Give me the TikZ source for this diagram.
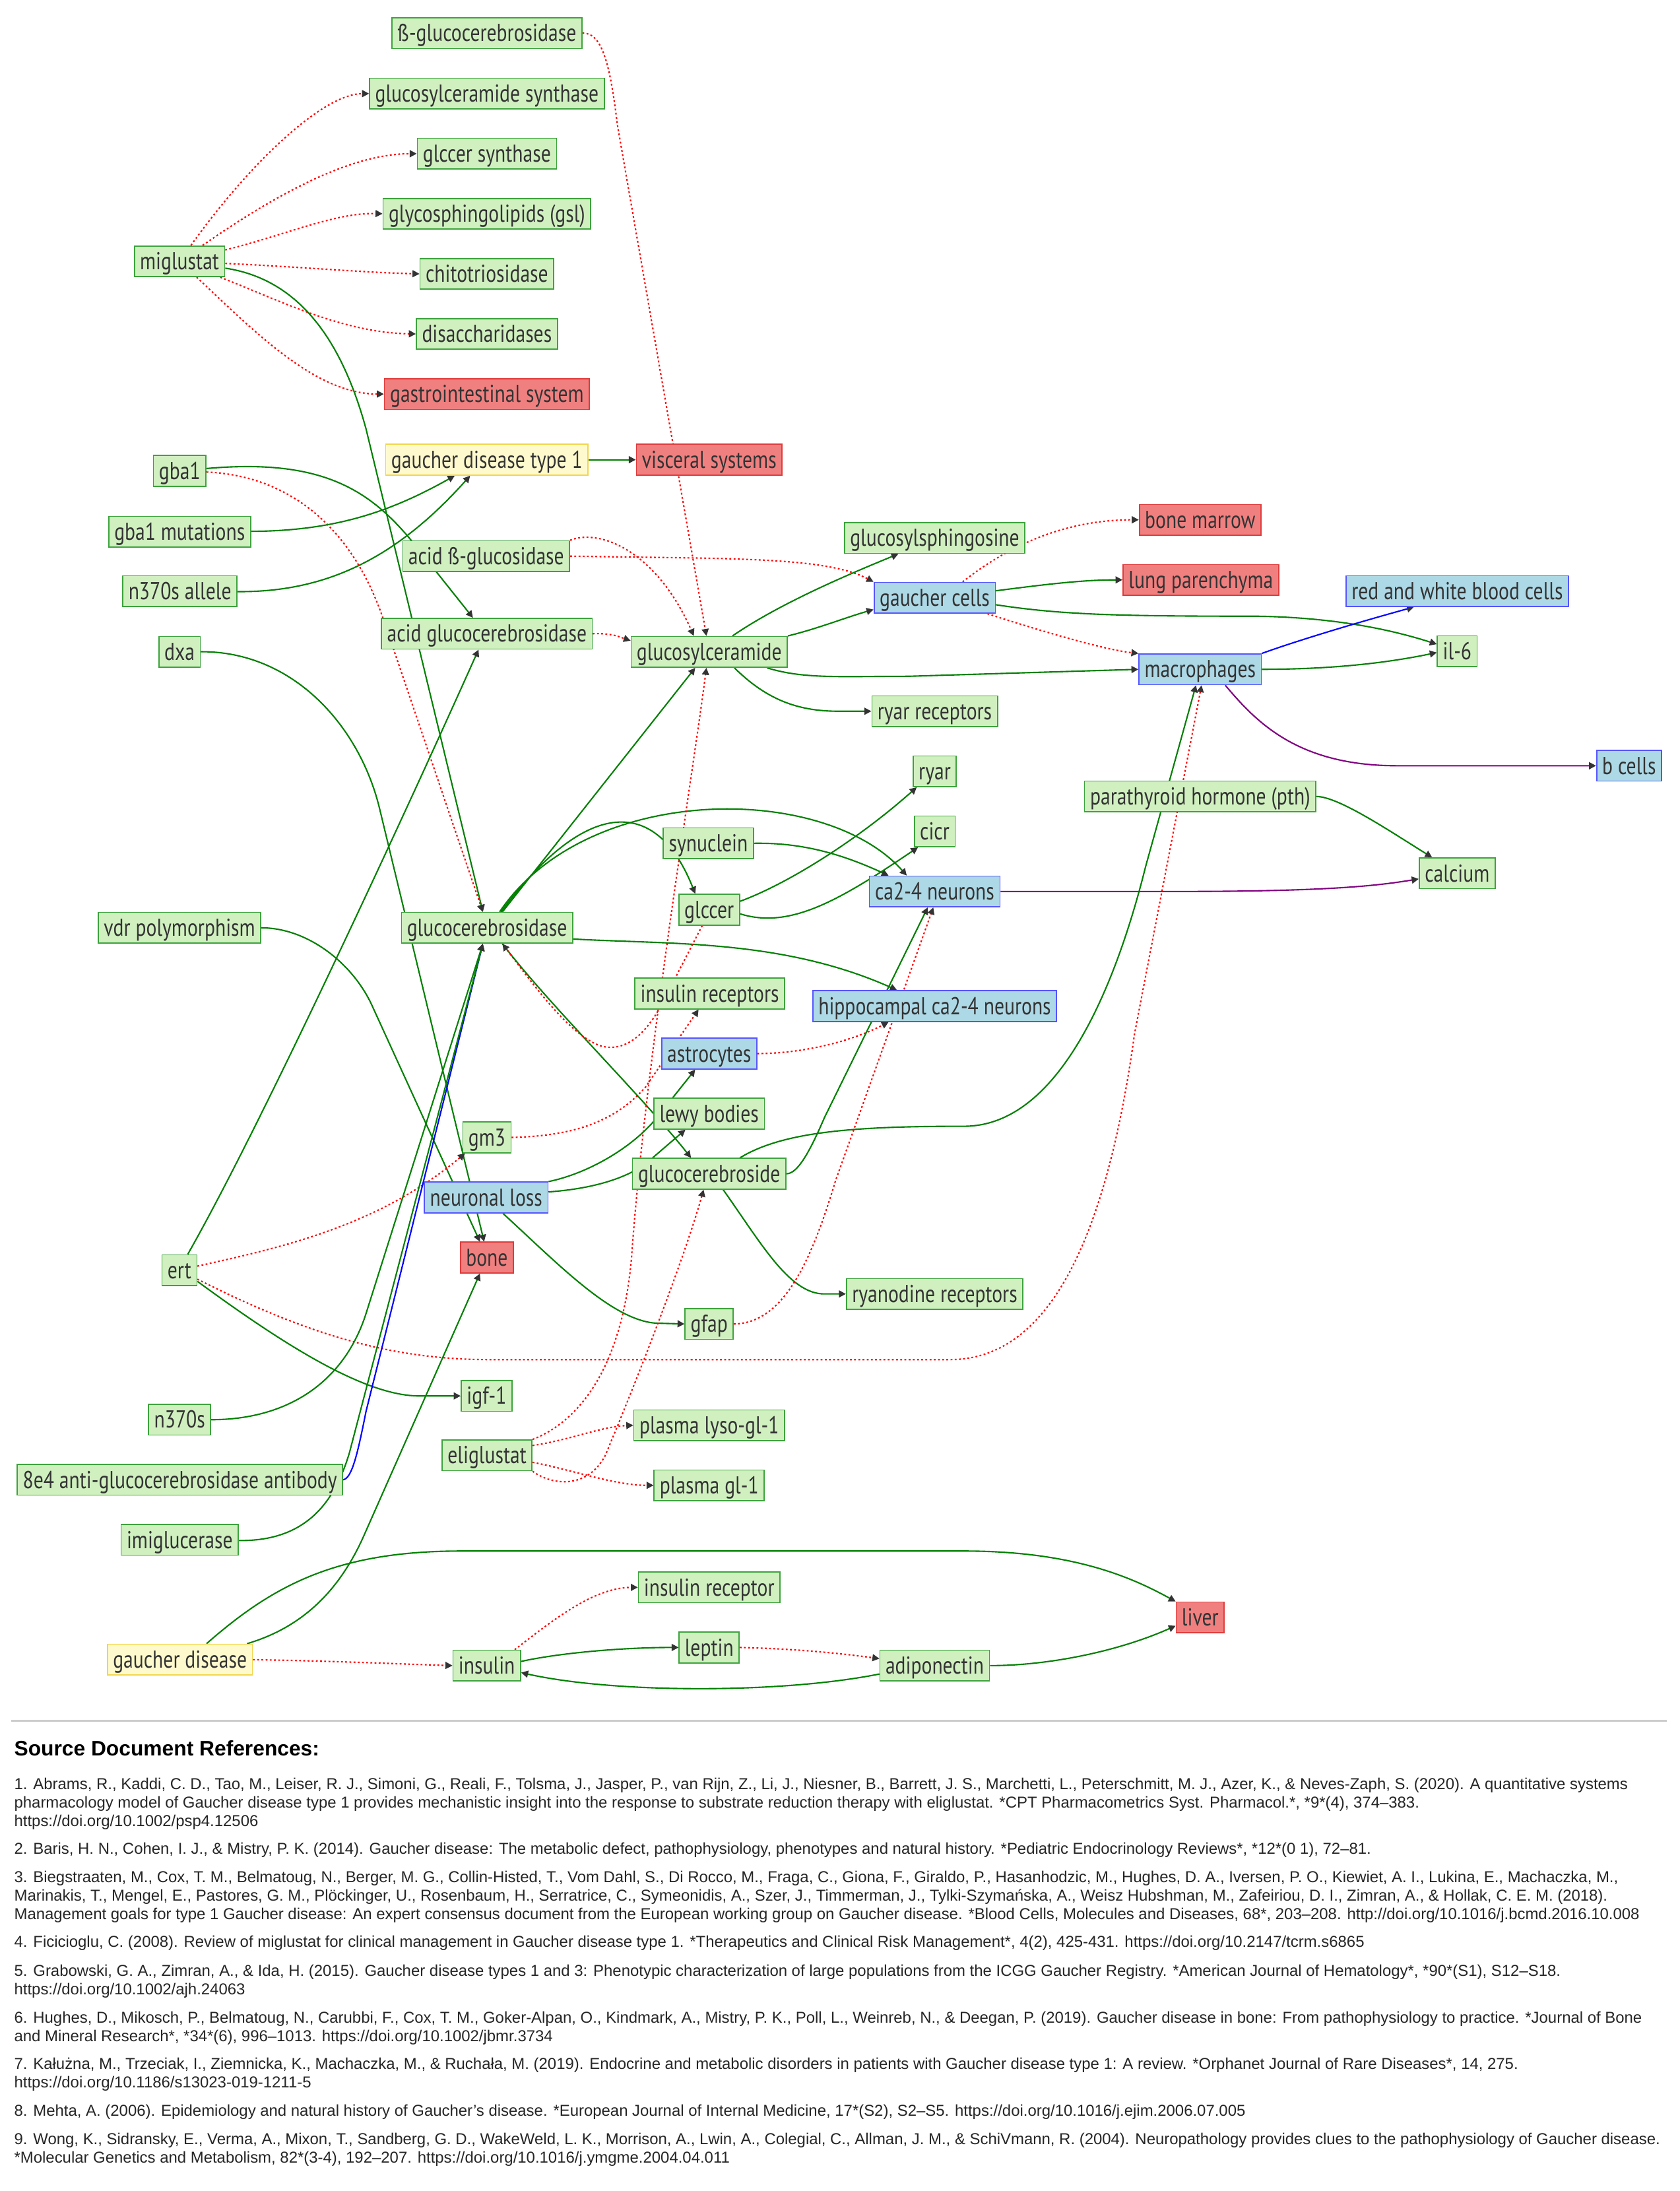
\documentclass[tikz,border=0pt]{standalone}
\usepackage{fontspec}
\setmainfont{Liberation Sans}
\newfontfamily\boxfont[FakeStretch=0.8]{PT Sans}
\usetikzlibrary{arrows.meta,backgrounds}
\definecolor{txtgray}{HTML}{333333}
\definecolor{gfill}{HTML}{D0F0C0}
\definecolor{gstroke}{HTML}{3DA33D}
\definecolor{rfill}{HTML}{F08080}
\definecolor{rstroke}{HTML}{E03C3C}
\definecolor{bfill}{HTML}{ADD8E6}
\definecolor{bstroke}{HTML}{5555FF}
\definecolor{yfill}{HTML}{FFFACD}
\definecolor{ystroke}{HTML}{F2D64B}
\definecolor{edgegreen}{HTML}{008000}
\definecolor{edgepurple}{HTML}{800080}
\tikzset{
  nodebox/.style={draw, line width=0.8pt, text=txtgray, font=\boxfont\fontsize{17.5}{20}\selectfont,
    minimum height=22pt, inner xsep=4pt, inner ysep=0pt, text height=14pt, text depth=2pt},
  greennode/.style={nodebox, fill=gfill, draw=gstroke},
  rednode/.style={nodebox, fill=rfill, draw=rstroke},
  bluenode/.style={nodebox, fill=bfill, draw=bstroke},
  yellownode/.style={nodebox, fill=yfill, draw=ystroke},
  >={Triangle[length=5pt,width=5pt,color=txtgray]},
  greenarr/.style={->, draw=edgegreen, line width=1pt},
  redarr/.style={->, draw=red, line width=1pt, dash pattern=on 1.3pt off 1.7pt},
  bluearr/.style={->, draw=blue, line width=1pt},
  purplearr/.style={->, draw=edgepurple, line width=1pt},
  reftitle/.style={anchor=base west, inner sep=0pt, font=\bfseries\fontsize{15}{18}\selectfont},
  reftext/.style={anchor=base west, inner sep=0pt, text=black!85, font=\fontsize{11.3}{13}\selectfont}
}

\begin{document}
\begin{tikzpicture}[x=1pt,y=-1pt]
  \useasboundingbox (0,0) rectangle (1202,1568);
  \begin{scope}[on background layer]
    \fill[white] (0,0) rectangle (1202,1568);
  \end{scope}

  \node[greennode] (betagcd) at (348.5,23.7) {ß-glucocerebrosidase};
  \node[greennode] (gcsyn) at (348.5,67) {glucosylceramide synthase};
  \node[greennode] (glcsyn) at (348.5,110) {glccer synthase};
  \node[greennode] (gsl) at (348.5,153) {glycosphingolipids (gsl)};
  \node[greennode] (chito) at (348.5,196) {chitotriosidase};
  \node[greennode] (disac) at (348.5,239) {disaccharidases};
  \node[rednode] (gisys) at (348.5,282) {gastrointestinal system};
  \node[greennode] (migl) at (128.5,187) {miglustat};
  \node[yellownode] (gdt1) at (348.5,329) {gaucher disease type 1};
  \node[rednode] (visc) at (507.6,329) {visceral systems};
  \node[greennode] (gba1) at (128.6,337) {gba1};
  \node[greennode] (gbamut) at (128.6,380.5) {gba1 mutations};
  \node[greennode] (nallele) at (128.8,423) {n370s allele};
  \node[greennode] (dxa) at (128.5,466.5) {dxa};
  \node[greennode] (abglu) at (348,398) {acid ß-glucosidase};
  \node[greennode] (agcd) at (348.5,453.5) {acid glucocerebrosidase};
  \node[greennode] (gcer) at (507.6,466.5) {glucosylceramide};
  \node[greennode] (gsph) at (669,385) {glucosylsphingosine};
  \node[bluenode] (gcells) at (669,427.8) {gaucher cells};
  \node[rednode] (bmarrow) at (859,372) {bone marrow};
  \node[rednode] (lung) at (859.5,415) {lung parenchyma};
  \node[bluenode] (rwbc) at (1043,423) {red and white blood cells};
  \node[greennode] (il6) at (1043,466) {il-6};
  \node[bluenode] (macro) at (859,479) {macrophages};
  \node[greennode] (ryarrec) at (669,509) {ryar receptors};
  \node[bluenode] (bcells) at (1166,548) {b cells};
  \node[greennode] (ryar) at (669,552) {ryar};
  \node[greennode] (cicr) at (669,595) {cicr};
  \node[greennode] (pth) at (859,570) {parathyroid hormone (pth)};
  \node[greennode] (synuc) at (507,603.5) {synuclein};
  \node[greennode] (glccer) at (507.6,651) {glccer};
  \node[bluenode] (ca24) at (669,638) {ca2-4 neurons};
  \node[greennode] (calcium) at (1043,625) {calcium};
  \node[greennode] (vdr) at (128.5,664) {vdr polymorphism};
  \node[greennode] (gcd) at (348.6,664) {glucocerebrosidase};
  \node[greennode] (insrec) at (508,711) {insulin receptors};
  \node[bluenode] (hippo) at (669,720) {hippocampal ca2-4 neurons};
  \node[bluenode] (astro) at (507.6,754) {astrocytes};
  \node[greennode] (lewy) at (507.6,797) {lewy bodies};
  \node[greennode] (gm3) at (348.5,814) {gm3};
  \node[bluenode] (nloss) at (348,857) {neuronal loss};
  \node[greennode] (gcside) at (507.6,840) {glucocerebroside};
  \node[rednode] (bone) at (348.5,900) {bone};
  \node[greennode] (ert) at (128.4,909) {ert};
  \node[greennode] (gfap) at (507.6,947.5) {gfap};
  \node[greennode] (ryanod) at (669,926) {ryanodine receptors};
  \node[greennode] (n370s) at (128.6,1016) {n370s};
  \node[greennode] (igf1) at (348.3,999) {igf-1};
  \node[greennode] (eli) at (348.6,1041.5) {eliglustat};
  \node[greennode] (plyso) at (507.6,1020) {plasma lyso-gl-1};
  \node[greennode] (pgl) at (507.6,1063) {plasma gl-1};
  \node[greennode] (ab8e4) at (128.8,1059) {8e4 anti-glucocerebrosidase antibody};
  \node[greennode] (imig) at (128.6,1102) {imiglucerase};
  \node[rednode] (liver) at (859,1157.5) {liver};
  \node[yellownode] (gd) at (128.8,1187.7) {gaucher disease};
  \node[greennode] (insulin) at (348.4,1192) {insulin};
  \node[greennode] (insr) at (507.6,1136) {insulin receptor};
  \node[greennode] (leptin) at (507.6,1179) {leptin};
  \node[greennode] (adipo) at (669,1192) {adiponectin};

  \begin{scope}[on background layer]
    \draw[redarr] (migl) .. controls (180,115) and (232,67) .. (gcsyn.west);
    \draw[redarr] (migl) .. controls (185,148) and (245,110) .. (glcsyn.west);
    \draw[redarr] (migl) .. controls (205,168) and (240,152) .. (gsl.west);
    \draw[redarr] (migl) .. controls (215,191) and (260,195) .. (chito.west);
    \draw[redarr] (migl) .. controls (200,215) and (245,238) .. (disac.west);
    \draw[redarr] (migl) .. controls (180,235) and (225,282) .. (gisys.west);
    \draw[greenarr] (migl) .. controls (215,200) and (245,245) .. (262,307) -- ([xshift=-3pt]gcd.north);
    \draw[redarr] (betagcd.east) .. controls (432,23) and (437,50) .. (442,90) -- ([xshift=-2pt]gcer.north);
    \draw[greenarr] (gdt1) -- (visc);
    \draw[greenarr] (gba1) .. controls (230,328) and (265,350) .. (297,390) -- ([xshift=-10pt]agcd.north);
    \draw[redarr] (gba1) .. controls (200,340) and (250,370) .. (275,445) -- ([xshift=-3pt]gcd.north);
    \draw[greenarr] (gbamut) .. controls (240,380) and (280,366) .. ([xshift=-23pt]gdt1.south);
    \draw[greenarr] (nallele) .. controls (235,424) and (285,398) .. ([xshift=-12pt]gdt1.south);
    \draw[redarr] (abglu.north east) .. controls (430,378) and (470,395) .. ([xshift=-11pt]gcer.north);
    \draw[redarr] (abglu.east) .. controls (520,400) and (590,398) .. (gcells.north west);
    \draw[redarr] (agcd.east) .. controls (438,453) and (444,456) .. ([yshift=8pt]gcer.west);
    \draw[greenarr] (gcer) .. controls (558,432) and (605,412) .. ([xshift=-26pt]gsph.south);
    \draw[greenarr] (gcer.north east) .. controls (585,450) and (605,442) .. ([yshift=3pt]gcells.south west);
    \draw[greenarr] ([xshift=-15pt]gcer.south east) .. controls (575,486) and (600,484) .. (650,484) -- (macro.west);
    \draw[greenarr] ([xshift=18pt]gcer.south) .. controls (548,500) and (570,509) .. (600,509) -- (ryarrec.west);
    \draw[redarr] ([xshift=20pt]gcells.north) .. controls (720,392) and (760,372) .. (bmarrow.west);
    \draw[greenarr] ([yshift=5pt]gcells.east) .. controls (750,418) and (775,415) .. (lung.west);
    \draw[greenarr] ([yshift=-5pt]gcells.east) .. controls (760,440) and (800,441) .. (900,441) .. controls (960,442) and (1000,452) .. ([yshift=5pt]il6.west);
    \draw[redarr] ([xshift=-6pt]gcells.south east) .. controls (740,450) and (790,465) .. (macro.north west);
    \draw[bluearr] (macro.north east) .. controls (930,458) and (970,446) .. ([xshift=-31pt]rwbc.south);
    \draw[greenarr] (macro.east) .. controls (950,479) and (990,475) .. ([yshift=-1pt]il6.west);
    \draw[purplearr] ([xshift=18pt]macro.south) .. controls (900,518) and (930,548) .. (1000,548) -- (bcells.west);
    \draw[greenarr] ([xshift=11pt]gcd.north) -- ([xshift=-10pt]gcer.south);
    \draw[greenarr] ([xshift=10pt]gcd.north) .. controls (420,570) and (470,570) .. ([xshift=-10pt]glccer.north);
    \draw[greenarr] ([xshift=9pt]gcd.north) .. controls (420,560) and (590,560) .. ([xshift=-20pt]ca24.north);
    \draw[greenarr] ([yshift=-8pt]gcd.east) .. controls (480,676) and (560,672) .. ([xshift=-27pt]hippo.north);
    \draw[greenarr] ([xshift=11pt]gcd.south) .. controls (392,718) and (460,785) .. ([xshift=-13pt]gcside.north);
    \draw[redarr] ([xshift=-5pt]glccer.south) -- (475,716) .. controls (462,742) and (447,752) .. (432,749) .. controls (410,744) and (382,705) .. ([xshift=11pt]gcd.south);
    \draw[greenarr] (synuc.east) .. controls (572,603) and (600,610) .. ([xshift=-33pt]ca24.north);
    \draw[greenarr] ([yshift=6pt]glccer.east) .. controls (565,632) and (615,600) .. ([xshift=3pt]ryar.south west);
    \draw[greenarr] ([yshift=-3pt]glccer.east) .. controls (565,665) and (600,645) .. ([xshift=3pt]cicr.south west);
    \draw[greenarr] (pth.east) .. controls (958,570) and (995,595) .. ([xshift=-18pt]calcium.north);
    \draw[purplearr] (ca24.east) -- (840,638) .. controls (950,638) and (985,634) .. ([yshift=-4pt]calcium.west);
    \draw[redarr] (gm3.east) .. controls (410,813) and (440,803) .. (462,778) -- ([xshift=-8pt]insrec.south);
    \draw[redarr] (astro.east) .. controls (575,754) and (610,745) .. ([xshift=-33pt]hippo.south);
    \draw[greenarr] (nloss.north east) .. controls (420,840) and (452,822) .. (470,800) -- ([xshift=-10pt]astro.south);
    \draw[greenarr] ([yshift=4pt]nloss.east) .. controls (420,851) and (445,845) .. (462,833) -- ([xshift=-17pt]lewy.south);
    \draw[greenarr] ([xshift=12pt]nloss.south) .. controls (400,905) and (440,947) .. (472,947) -- (gfap.west);
    \draw[greenarr] ([xshift=22pt]gcside.north) .. controls (560,810) and (610,806) .. (690,806) .. controls (760,806) and (800,700) .. (820,620) -- ([xshift=-3pt]macro.south);
    \draw[greenarr] (gcside.east) .. controls (570,840) and (578,828) .. (590,800) -- ([xshift=-5pt]ca24.south);
    \draw[greenarr] ([xshift=10pt]gcside.south) .. controls (545,890) and (565,926) .. (590,926) -- (ryanod.west);
    \draw[redarr] (gfap.east) .. controls (560,947) and (580,905) .. (598,845) -- ([xshift=-1pt]ca24.south);
    \draw[greenarr] (dxa) .. controls (210,466) and (258,520) .. (272,580) -- ([xshift=-2pt]bone.north);
    \draw[greenarr] (vdr) .. controls (220,664) and (252,689) .. (266,719) -- ([xshift=-5pt]bone.north);
    \draw[greenarr] ([xshift=6pt]ert.north) .. controls (190,800) and (300,560) .. ([xshift=-6pt]agcd.south);
    \draw[redarr] (ert) .. controls (200,893) and (270,878) .. ([xshift=2pt]gm3.south west);
    \draw[greenarr] ([yshift=-8pt]ert.east) .. controls (200,960) and (260,999) .. (300,999) -- (igf1.west);
    \draw[redarr] (ert) .. controls (220,955) and (280,973) .. (350,973) -- (680,973) .. controls (745,973) and (790,900) .. (812,740) -- ([xshift=1pt]macro.south);
    \draw[greenarr] (n370s) .. controls (205,1016) and (246,990) .. (262,940) -- ([xshift=-3pt]gcd.south);
    \draw[bluearr] (ab8e4.east) .. controls (252,1058) and (256,1040) .. (262,1010) -- ([xshift=-3pt]gcd.south);
    \draw[greenarr] (imig) .. controls (215,1103) and (238,1080) .. (250,1040) -- ([xshift=-3pt]gcd.south);
    \draw[redarr] (eli.north east) .. controls (420,1015) and (446,970) .. (452,900) .. controls (462,760) and (495,560) .. ([xshift=-2pt]gcer.south);
    \draw[redarr] ([yshift=7pt]eli.east) .. controls (410,1030) and (430,1021) .. (plyso.west);
    \draw[redarr] ([yshift=-5pt]eli.east) .. controls (410,1052) and (440,1063) .. (pgl.west);
    \draw[redarr] (eli.south east) .. controls (395,1063) and (420,1066) .. (433,1042) .. controls (455,990) and (490,900) .. ([xshift=-4pt]gcside.south);
    \draw[greenarr] ([xshift=48pt]gd.north) .. controls (215,1165) and (242,1140) .. (260,1100) -- ([xshift=-5pt]bone.south);
    \draw[greenarr] ([xshift=19pt]gd.north) .. controls (195,1135) and (240,1110) .. (330,1110) -- (690,1110) .. controls (770,1110) and (812,1130) .. (liver.north west);
    \draw[redarr] (gd.east) .. controls (250,1189) and (290,1191) .. (insulin.west);
    \draw[redarr] ([xshift=20pt]insulin.north) .. controls (395,1160) and (425,1136) .. (insr.west);
    \draw[greenarr] ([yshift=3pt]insulin.east) .. controls (400,1183) and (445,1179) .. (leptin.west);
    \draw[redarr] (leptin.east) .. controls (570,1180) and (600,1183) .. ([yshift=5pt]adipo.west);
    \draw[greenarr] ([yshift=-6pt]adipo.west) .. controls (560,1212) and (440,1212) .. ([yshift=-5pt]insulin.east);
    \draw[greenarr] (adipo.east) .. controls (750,1192) and (800,1182) .. ([yshift=-6pt]liver.west);
  \end{scope}

  \draw[black!20, line width=1pt] (8,1231.5) -- (1193,1231.5);
  \node[reftitle] (refhead) at (10,1256.7) {Source Document References:};
  \node[reftext] (ref1a) at (10,1280.7) {1. Abrams, R., Kaddi, C. D., Tao, M., Leiser, R. J., Simoni, G., Reali, F., Tolsma, J., Jasper, P., van Rijn, Z., Li, J., Niesner, B., Barrett, J. S., Marchetti, L., Peterschmitt, M. J., Azer, K., \& Neves-Zaph, S. (2020). A quantitative systems};
  \node[reftext] (ref1b) at (10,1293.9) {pharmacology model of Gaucher disease type 1 provides mechanistic insight into the response to substrate reduction therapy with eliglustat. *CPT Pharmacometrics Syst. Pharmacol.*, *9*(4), 374–383.};
  \node[reftext] (ref1c) at (10,1307.1) {https://doi.org/10.1002/psp4.12506};
  \node[reftext] (ref2) at (10,1326.7) {2. Baris, H. N., Cohen, I. J., \& Mistry, P. K. (2014). Gaucher disease: The metabolic defect, pathophysiology, phenotypes and natural history. *Pediatric Endocrinology Reviews*, *12*(0 1), 72–81.};
  \node[reftext] (ref3a) at (10,1347.2) {3. Biegstraaten, M., Cox, T. M., Belmatoug, N., Berger, M. G., Collin-Histed, T., Vom Dahl, S., Di Rocco, M., Fraga, C., Giona, F., Giraldo, P., Hasanhodzic, M., Hughes, D. A., Iversen, P. O., Kiewiet, A. I., Lukina, E., Machaczka, M.,};
  \node[reftext] (ref3b) at (10,1360.4) {Marinakis, T., Mengel, E., Pastores, G. M., Plöckinger, U., Rosenbaum, H., Serratrice, C., Symeonidis, A., Szer, J., Timmerman, J., Tylki-Szymańska, A., Weisz Hubshman, M., Zafeiriou, D. I., Zimran, A., \& Hollak, C. E. M. (2018).};
  \node[reftext] (ref3c) at (10,1373.6) {Management goals for type 1 Gaucher disease: An expert consensus document from the European working group on Gaucher disease. *Blood Cells, Molecules and Diseases, 68*, 203–208. http://doi.org/10.1016/j.bcmd.2016.10.008};
  \node[reftext] (ref4) at (10,1393.7) {4. Ficicioglu, C. (2008). Review of miglustat for clinical management in Gaucher disease type 1. *Therapeutics and Clinical Risk Management*, 4(2), 425-431. https://doi.org/10.2147/tcrm.s6865};
  \node[reftext] (ref5a) at (10,1414.4) {5. Grabowski, G. A., Zimran, A., \& Ida, H. (2015). Gaucher disease types 1 and 3: Phenotypic characterization of large populations from the ICGG Gaucher Registry. *American Journal of Hematology*, *90*(S1), S12–S18.};
  \node[reftext] (ref5b) at (10,1427.6) {https://doi.org/10.1002/ajh.24063};
  \node[reftext] (ref6a) at (10,1448.0) {6. Hughes, D., Mikosch, P., Belmatoug, N., Carubbi, F., Cox, T. M., Goker-Alpan, O., Kindmark, A., Mistry, P. K., Poll, L., Weinreb, N., \& Deegan, P. (2019). Gaucher disease in bone: From pathophysiology to practice. *Journal of Bone};
  \node[reftext] (ref6b) at (10,1461.2) {and Mineral Research*, *34*(6), 996–1013. https://doi.org/10.1002/jbmr.3734};
  \node[reftext] (ref7a) at (10,1481.0) {7. Kałużna, M., Trzeciak, I., Ziemnicka, K., Machaczka, M., \& Ruchała, M. (2019). Endocrine and metabolic disorders in patients with Gaucher disease type 1: A review. *Orphanet Journal of Rare Diseases*, 14, 275.};
  \node[reftext] (ref7b) at (10,1494.2) {https://doi.org/10.1186/s13023-019-1211-5};
  \node[reftext] (ref8) at (10,1514.2) {8. Mehta, A. (2006). Epidemiology and natural history of Gaucher's disease. *European Journal of Internal Medicine, 17*(S2), S2–S5. https://doi.org/10.1016/j.ejim.2006.07.005};
  \node[reftext] (ref9a) at (10,1534.8) {9. Wong, K., Sidransky, E., Verma, A., Mixon, T., Sandberg, G. D., WakeWeld, L. K., Morrison, A., Lwin, A., Colegial, C., Allman, J. M., \& SchiVmann, R. (2004). Neuropathology provides clues to the pathophysiology of Gaucher disease.};
  \node[reftext] (ref9b) at (10,1548.0) {*Molecular Genetics and Metabolism, 82*(3-4), 192–207. https://doi.org/10.1016/j.ymgme.2004.04.011};
\end{tikzpicture}
\end{document}
